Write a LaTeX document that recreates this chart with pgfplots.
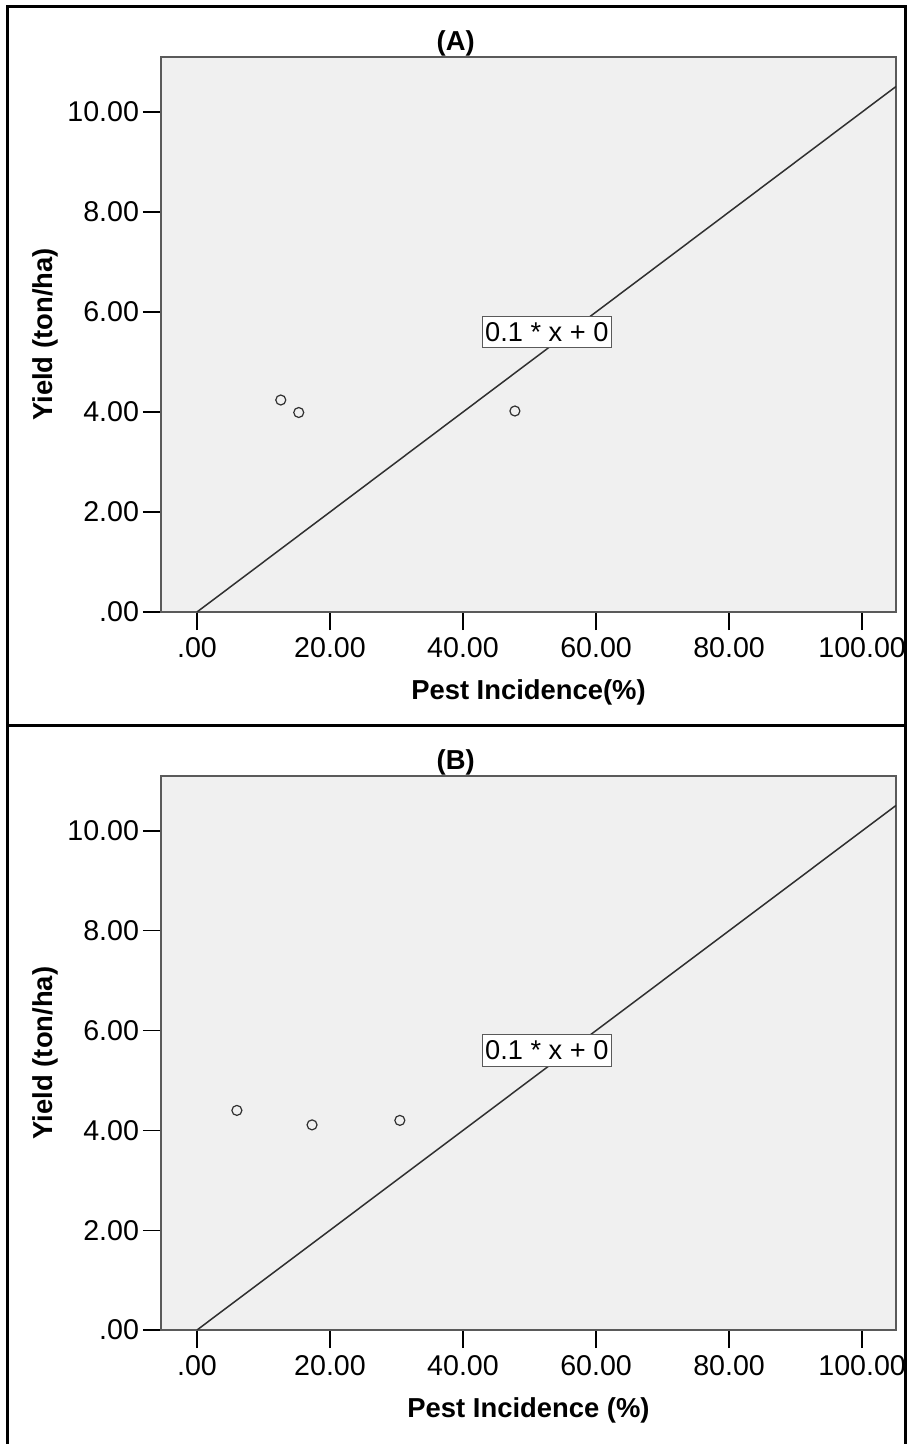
\documentclass[border=0pt]{standalone}
\usepackage{pgfplots}
\pgfplotsset{compat=1.18}
\usepackage{fontspec}
\setmainfont{Liberation Sans}
\definecolor{plotbg}{HTML}{F0F0F0}
\definecolor{frameg}{HTML}{5A5A5A}
\definecolor{ink}{HTML}{303030}

\pgfplotstableread{
x y
12.6 4.24
15.3 3.99
47.8 4.02
}\dataA
\pgfplotstableread{
x y
6.0 4.40
17.3 4.11
30.5 4.20
}\dataB

\tikzset{fitlbl/.style={draw=frameg, fill=white, line width=0.6pt, inner xsep=1.5pt, inner ysep=3pt, font=\fontsize{13.6}{15}\selectfont}}

\pgfplotsset{
  panel/.style={
    scale only axis,
    width=367.5pt, height=277.5pt,
    anchor=south west,
    xmin=-5.41, xmax=105.1,
    ymin=0, ymax=11.1,
    axis background/.style={fill=plotbg},
    axis line style={frameg, line width=0.8pt},
    tick align=outside,
    xtick pos=bottom, ytick pos=left,
    major tick length=9pt,
    tick style={black, line width=0.6pt},
    xtick={0,20,40,60,80,100},
    xticklabels={.00,20.00,40.00,60.00,80.00,100.00},
    ytick={0,2,4,6,8,10},
    yticklabels={.00,2.00,4.00,6.00,8.00,10.00},
    tick label style={font=\fontsize{14.3}{16}\selectfont},
    yticklabel style={xshift=1.5pt},
    xlabel style={font=\fontsize{13.7}{16}\selectfont\bfseries, at={(axis description cs:0.5,0)}, anchor=center, yshift=-40pt},
    ylabel style={font=\fontsize{13.7}{16}\selectfont\bfseries, at={(axis description cs:0,0.5)}, anchor=center, yshift=58pt},
    title style={font=\fontsize{13.7}{16}\selectfont\bfseries, at={(axis description cs:0.401,1)}, anchor=center, yshift=1pt},
    clip=true,
  },
}

\begin{document}
\begin{tikzpicture}
\useasboundingbox (0,0) rectangle (454pt,-722pt);
\draw[line width=1.5pt] (3.5pt,-740pt) -- (3.5pt,-3.5pt) -- (452.5pt,-3.5pt) -- (452.5pt,-740pt);
\draw[line width=1.5pt] (3.5pt,-362.5pt) -- (452.5pt,-362.5pt);

\begin{axis}[panel, at={(80.5pt,-306pt)},
  title={(A)}, xlabel={Pest Incidence(\%)}, ylabel={Yield (ton/ha)}]
\addplot[ink, line width=0.75pt] coordinates {(0,0) (105.1,10.51)};
\addplot[only marks, mark=o, mark size=2.5pt, mark options={ink, line width=0.6pt}] table[x=x,y=y] {\dataA};
\node[fitlbl] at (axis cs:52.6,5.6) {0.1 * x + 0};
\end{axis}

\begin{axis}[panel, at={(80.5pt,-665pt)}, height=277pt,
  title={(B)}, xlabel={Pest Incidence (\%)}, ylabel={Yield (ton/ha)}]
\addplot[ink, line width=0.75pt] coordinates {(0,0) (105.1,10.51)};
\addplot[only marks, mark=o, mark size=2.5pt, mark options={ink, line width=0.6pt}] table[x=x,y=y] {\dataB};
\node[fitlbl] at (axis cs:52.6,5.6) {0.1 * x + 0};
\end{axis}
\end{tikzpicture}
\end{document}
